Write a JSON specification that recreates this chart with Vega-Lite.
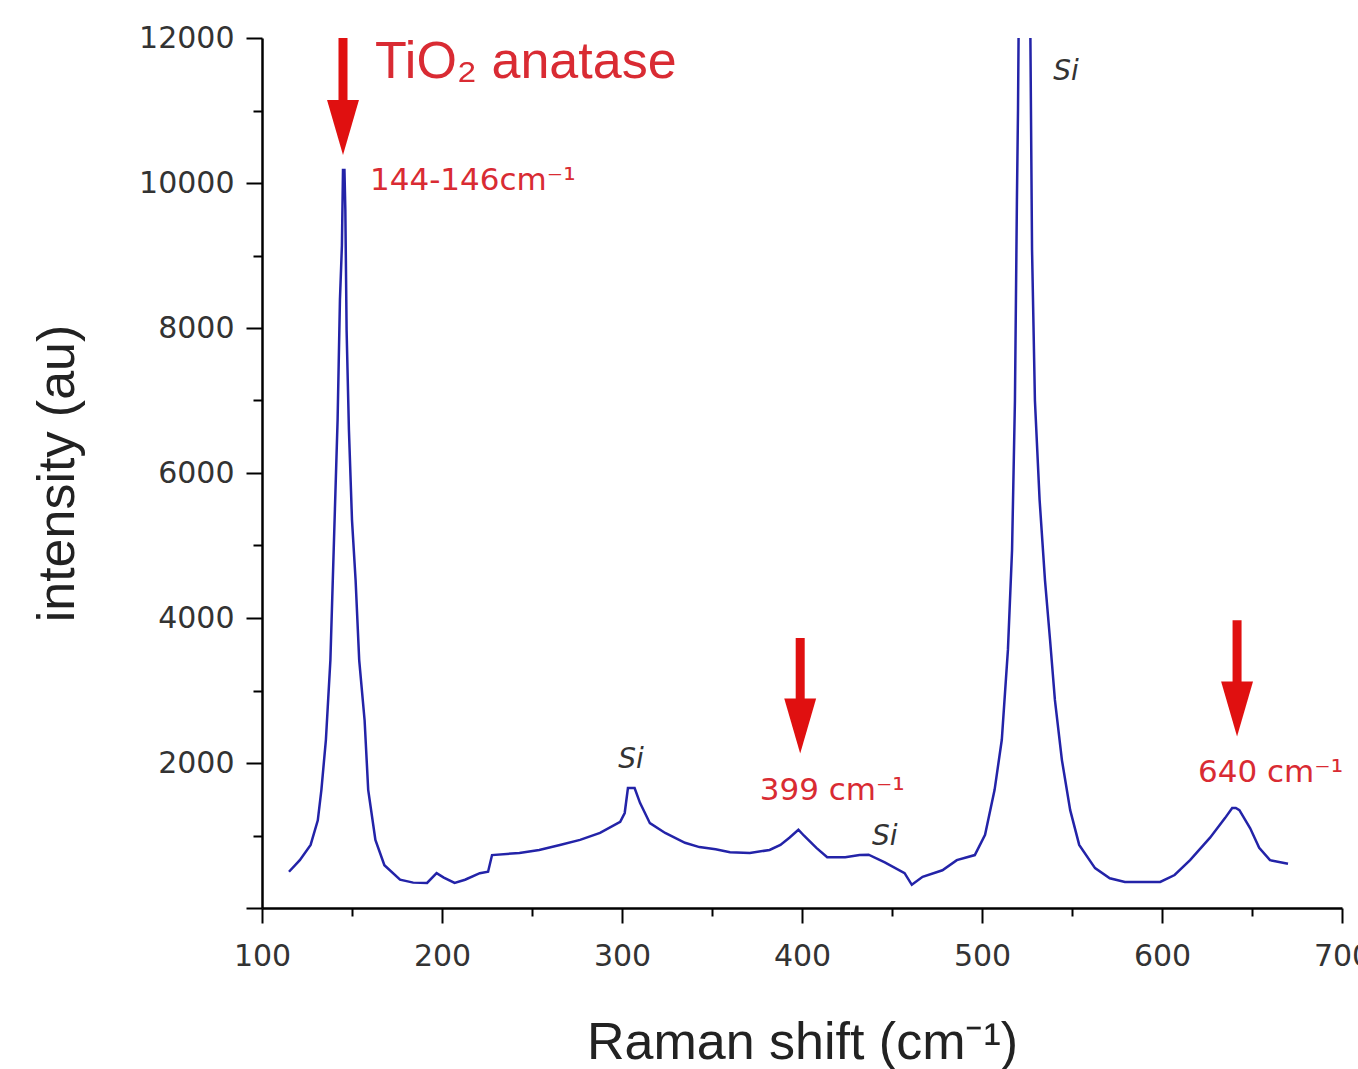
{
  "$schema": "https://vega.github.io/schema/vega-lite/v6.json",
  "width": 1080,
  "height": 870,
  "autosize": "none",
  "padding": {"left": 262, "top": 38, "right": 16, "bottom": 161},
  "background": "white",
  "config": {"view": {"stroke": null}},
  "datasets": {
    "spectrum": [
      {"shift": 115, "intensity": 500},
      {"shift": 121, "intensity": 660},
      {"shift": 127, "intensity": 870},
      {"shift": 131, "intensity": 1210},
      {"shift": 133, "intensity": 1630},
      {"shift": 135.5, "intensity": 2320},
      {"shift": 138, "intensity": 3420},
      {"shift": 140, "intensity": 5080},
      {"shift": 142, "intensity": 6730},
      {"shift": 143.3, "intensity": 8390},
      {"shift": 144.4, "intensity": 9140},
      {"shift": 145, "intensity": 10180},
      {"shift": 145.8, "intensity": 10180},
      {"shift": 146.3, "intensity": 9630},
      {"shift": 147, "intensity": 7970},
      {"shift": 148.3, "intensity": 6590},
      {"shift": 150, "intensity": 5350},
      {"shift": 152, "intensity": 4520},
      {"shift": 154, "intensity": 3420},
      {"shift": 157, "intensity": 2590},
      {"shift": 159, "intensity": 1630},
      {"shift": 163, "intensity": 940},
      {"shift": 168, "intensity": 590},
      {"shift": 176.7, "intensity": 390},
      {"shift": 184, "intensity": 350},
      {"shift": 191.7, "intensity": 345},
      {"shift": 197, "intensity": 480},
      {"shift": 201, "intensity": 420},
      {"shift": 207, "intensity": 345},
      {"shift": 212.8, "intensity": 390},
      {"shift": 221, "intensity": 480},
      {"shift": 225.6, "intensity": 500},
      {"shift": 227.8, "intensity": 730},
      {"shift": 243, "intensity": 760},
      {"shift": 254, "intensity": 800},
      {"shift": 265.5, "intensity": 870},
      {"shift": 276.7, "intensity": 940},
      {"shift": 287.8, "intensity": 1035},
      {"shift": 299, "intensity": 1190},
      {"shift": 301.5, "intensity": 1310},
      {"shift": 303.3, "intensity": 1655},
      {"shift": 307, "intensity": 1655},
      {"shift": 310, "intensity": 1450},
      {"shift": 315.5, "intensity": 1170},
      {"shift": 324, "intensity": 1035},
      {"shift": 335, "intensity": 900},
      {"shift": 343, "intensity": 840},
      {"shift": 352, "intensity": 810},
      {"shift": 360, "intensity": 770},
      {"shift": 371, "intensity": 760},
      {"shift": 382, "intensity": 800},
      {"shift": 388, "intensity": 870},
      {"shift": 393, "intensity": 970},
      {"shift": 398, "intensity": 1080},
      {"shift": 401, "intensity": 1000},
      {"shift": 408, "intensity": 830},
      {"shift": 414, "intensity": 700},
      {"shift": 424, "intensity": 700},
      {"shift": 432, "intensity": 730},
      {"shift": 437, "intensity": 735},
      {"shift": 446, "intensity": 630},
      {"shift": 457, "intensity": 480},
      {"shift": 461, "intensity": 320},
      {"shift": 467, "intensity": 430},
      {"shift": 478, "intensity": 520},
      {"shift": 486, "intensity": 660},
      {"shift": 496, "intensity": 730},
      {"shift": 501.7, "intensity": 1010},
      {"shift": 507, "intensity": 1630},
      {"shift": 511, "intensity": 2320},
      {"shift": 514.4, "intensity": 3560},
      {"shift": 516.7, "intensity": 4940},
      {"shift": 518.3, "intensity": 7000},
      {"shift": 519.4, "intensity": 9770},
      {"shift": 520, "intensity": 11000},
      {"shift": 520.5, "intensity": 12600},
      {"shift": 523.5, "intensity": 17000},
      {"shift": 526.7, "intensity": 12600},
      {"shift": 527.8, "intensity": 9080},
      {"shift": 529.4, "intensity": 7000},
      {"shift": 532, "intensity": 5630},
      {"shift": 535, "intensity": 4520},
      {"shift": 537.8, "intensity": 3700},
      {"shift": 540.5, "intensity": 2870},
      {"shift": 544.4, "intensity": 2040},
      {"shift": 549, "intensity": 1350},
      {"shift": 554, "intensity": 870},
      {"shift": 562.8, "intensity": 550},
      {"shift": 571, "intensity": 410},
      {"shift": 579.4, "intensity": 360},
      {"shift": 599, "intensity": 360},
      {"shift": 607, "intensity": 455},
      {"shift": 615.6, "intensity": 660},
      {"shift": 626.7, "intensity": 970},
      {"shift": 635, "intensity": 1240},
      {"shift": 639, "intensity": 1380},
      {"shift": 641, "intensity": 1380},
      {"shift": 643, "intensity": 1350},
      {"shift": 649, "intensity": 1100},
      {"shift": 654, "intensity": 830},
      {"shift": 660, "intensity": 660},
      {"shift": 670, "intensity": 610}
    ],
    "arrows": [
      {"shift": 145, "top": 12000, "head": 10765},
      {"shift": 399, "top": 3724, "head": 2510},
      {"shift": 641.7, "top": 3970, "head": 2745}
    ],
    "title": [
      {"shift": 162.8, "intensity": 11450, "text": "TiO₂ anatase"}
    ],
    "peakLabels": [
      {"shift": 160, "intensity": 9900, "text": "144-146cm⁻¹"},
      {"shift": 376.5, "intensity": 1490, "text": "399 cm⁻¹"},
      {"shift": 620, "intensity": 1740, "text": "640 cm⁻¹"}
    ],
    "siLabels": [
      {"shift": 305, "intensity": 1930, "text": "Si"},
      {"shift": 546.7, "intensity": 11420, "text": "Si"},
      {"shift": 446, "intensity": 870, "text": "Si"}
    ]
  },
  "layer": [
    {
      "data": {"name": "spectrum"},
      "mark": {"type": "line", "color": "#2323a8", "strokeWidth": 2.5, "clip": true},
      "encoding": {
        "x": {
          "field": "shift", "type": "quantitative",
          "scale": {"domain": [100, 700], "nice": false, "zero": false},
          "axis": {
            "title": "Raman shift (cm⁻¹)",
            "values": [100, 150, 200, 250, 300, 350, 400, 450, 500, 550, 600, 650, 700],
            "format": "d",
            "labelExpr": "datum.value % 100 === 0 ? datum.label : ''",
            "labelOverlap": false,
            "labelFlush": false,
            "grid": false,
            "domainColor": "#000", "domainWidth": 2.5,
            "tickColor": "#000", "tickWidth": 2,
            "tickSize": {"condition": {"test": "datum.value % 100 === 0", "value": 15}, "value": 8},
            "labelPadding": 18,
            "labelFont": "DejaVu Sans", "labelFontSize": 30, "labelColor": "#333",
            "titleFont": "Liberation Sans", "titleFontSize": 52, "titleFontWeight": "normal", "titleColor": "#222",
            "titlePadding": 46
          }
        },
        "y": {
          "field": "intensity", "type": "quantitative",
          "scale": {"domain": [0, 12000], "nice": false},
          "axis": {
            "title": "intensity (au)",
            "values": [0, 1000, 2000, 3000, 4000, 5000, 6000, 7000, 8000, 9000, 10000, 11000, 12000],
            "format": "d",
            "labelExpr": "datum.value % 2000 === 0 && datum.value > 0 ? datum.label : ''",
            "labelOverlap": false,
            "labelFlush": false,
            "grid": false,
            "domainColor": "#000", "domainWidth": 2.5,
            "tickColor": "#000", "tickWidth": 2,
            "tickSize": {"condition": {"test": "datum.value % 2000 === 0", "value": 16}, "value": 9},
            "labelPadding": 12,
            "labelFont": "DejaVu Sans", "labelFontSize": 30, "labelColor": "#333",
            "titleFont": "Liberation Sans", "titleFontSize": 52, "titleFontWeight": "normal", "titleColor": "#222",
            "titlePadding": 54
          }
        }
      }
    },
    {
      "data": {"name": "arrows"},
      "mark": {"type": "rule", "color": "#e01010", "strokeWidth": 9},
      "encoding": {
        "x": {"field": "shift", "type": "quantitative"},
        "y": {"field": "top", "type": "quantitative"},
        "y2": {"field": "head"}
      }
    },
    {
      "data": {"name": "arrows"},
      "mark": {"type": "point", "shape": "M-0.58,-1L0.58,-1L0,1Z", "filled": true, "color": "#e01010", "opacity": 1, "size": 3025},
      "encoding": {
        "x": {"field": "shift", "type": "quantitative"},
        "y": {"field": "head", "type": "quantitative"}
      }
    },
    {
      "data": {"name": "title"},
      "mark": {"type": "text", "align": "left", "baseline": "alphabetic", "font": "Liberation Sans", "fontSize": 52, "color": "#d92b33"},
      "encoding": {
        "x": {"field": "shift", "type": "quantitative"},
        "y": {"field": "intensity", "type": "quantitative"},
        "text": {"field": "text"}
      }
    },
    {
      "data": {"name": "peakLabels"},
      "mark": {"type": "text", "align": "left", "baseline": "alphabetic", "font": "DejaVu Sans", "fontSize": 31, "color": "#d92b33"},
      "encoding": {
        "x": {"field": "shift", "type": "quantitative"},
        "y": {"field": "intensity", "type": "quantitative"},
        "text": {"field": "text"}
      }
    },
    {
      "data": {"name": "siLabels"},
      "mark": {"type": "text", "align": "center", "baseline": "alphabetic", "font": "DejaVu Sans", "fontSize": 28, "fontStyle": "italic", "color": "#333"},
      "encoding": {
        "x": {"field": "shift", "type": "quantitative"},
        "y": {"field": "intensity", "type": "quantitative"},
        "text": {"field": "text"}
      }
    }
  ]
}
